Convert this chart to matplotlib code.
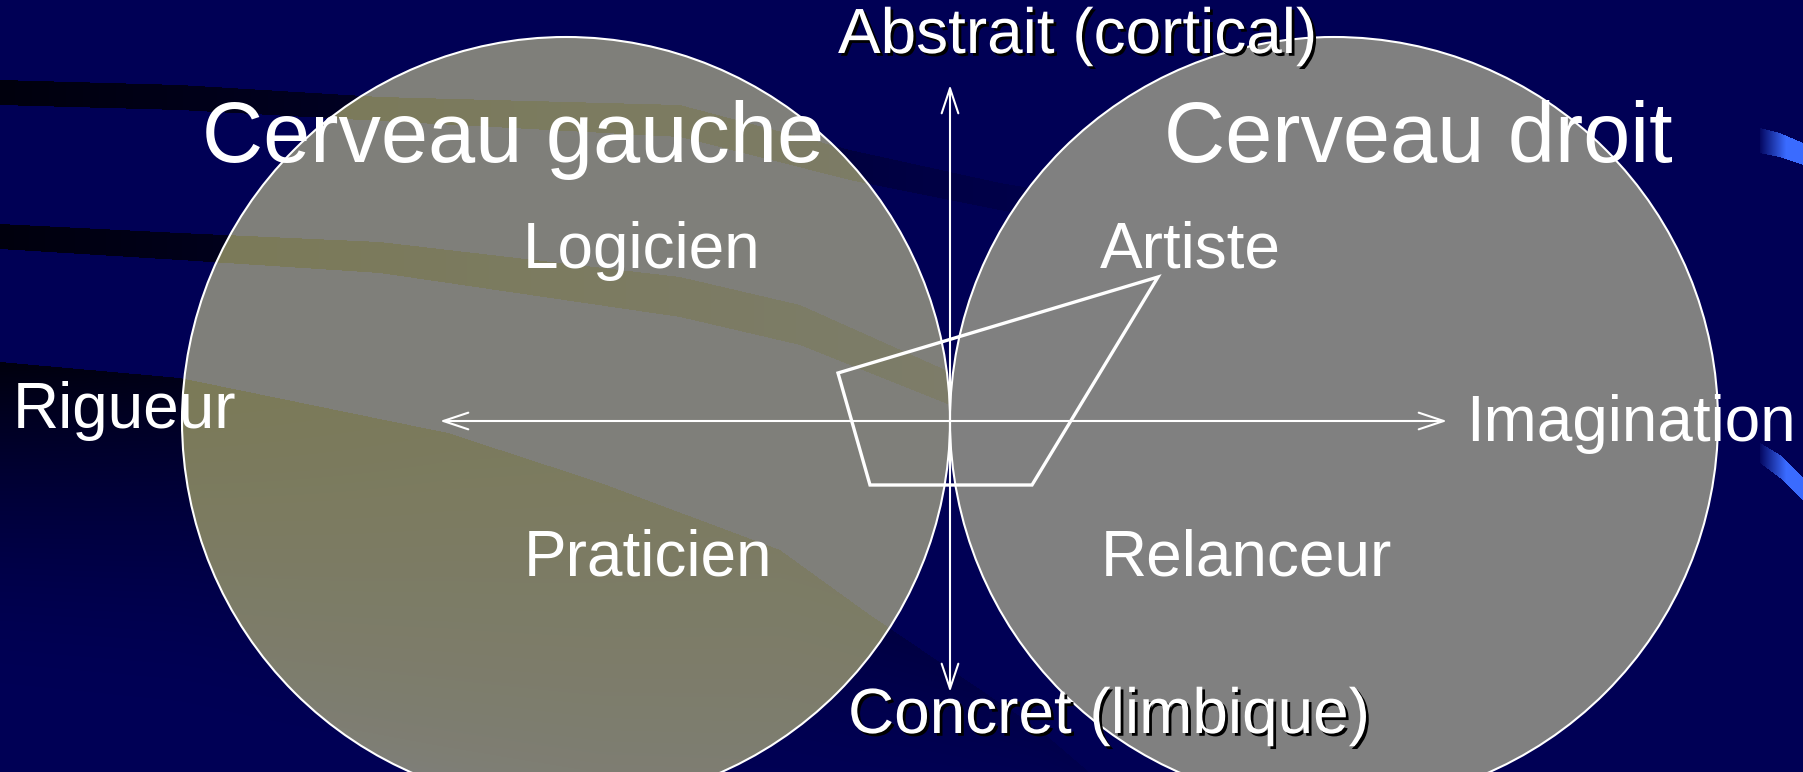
import numpy as np
import matplotlib.pyplot as plt
import matplotlib.patheffects as pe
from matplotlib.patches import Circle, Polygon
from matplotlib.path import Path

W, H = 1803, 772
BG = '#000055'
FONT = 'Liberation Sans'

# cercles (centre x, centre y, rayon) en pixels
circle_centers = [(566, 421), (1334, 421)]
circle_radius = 384

# axes : horizontal (Rigueur <-> Imagination), vertical (Concret <-> Abstrait)
h_axis = [(440, 421), (1447, 421)]
v_axis = [(950, 692), (950, 85)]

# quadrilatère du profil
profile = [(838, 373), (1158, 277), (1032, 485), (870, 485)]

# textes
titles = ['Cerveau gauche', 'Cerveau droit']
title_x = [202, 1164]
title_y = [162, 162]

labels = ['Logicien', 'Artiste', 'Praticien', 'Relanceur', 'Rigueur', 'Imagination']
label_x = [523, 1100, 524, 1101, 13, 1466]
label_y = [268, 268, 575, 575, 428, 441]

axis_labels = ['Abstrait (cortical)', 'Concret (limbique)']
axis_label_x = [838, 848]
axis_label_y = [53, 733]

# bandes décoratives du fond (x, bord haut, bord bas)
band_x = [
    [0, 180, 380, 680, 850, 1000, 1100],
    [0, 180, 380, 680, 800, 950, 1000],
    [0, 180, 448, 601, 780, 870, 1040, 1110],
]
band_top = [
    [80, 85, 97, 105, 150, 183, 200],
    [224, 233, 242, 277, 305, 372, 390],
    [362, 378, 433, 483, 550, 615, 730, 790],
]
band_bot = [
    [105, 110, 121, 137, 180, 210, 228],
    [249, 260, 273, 317, 345, 405, 420],
    [700, 720, 780, 810, 820, 830, 840, 850],
]
band_soft = [False, False, True]

# petites virgules bleues à droite
swoosh_x = [[1760, 1780, 1803], [1760, 1780, 1803]]
swoosh_top = [[128, 133, 143], [443, 455, 477]]
swoosh_bot = [[153, 157, 165], [463, 478, 500]]

fig = plt.figure(figsize=(W / 100, H / 100), dpi=100)
fig.patch.set_facecolor(BG)
ax = fig.add_axes([0, 0, 1, 1])
ax.set_facecolor(BG)

X, Y = np.meshgrid(np.arange(W) + 0.5, np.arange(H) + 0.5)
pts = np.column_stack([X.ravel(), Y.ravel()])


def band_alpha(xs, top, bot, a_left, a_right, soft, power):
    path = Path(np.column_stack([np.r_[xs, xs[::-1]], np.r_[top, bot[::-1]]]))
    inside = path.contains_points(pts).reshape(H, W)
    a = a_left + (a_right - a_left) * np.clip(X / xs[-1], 0, 1)
    if soft:
        t = np.interp(X, xs, top)
        b = np.interp(X, xs, bot)
        a = a * np.clip((b - Y) / (b - t), 0, 1) ** power
    return np.where(inside, a, 0.0)


dark = np.zeros((H, W))
olive = np.zeros((H, W))
for xs, t, b, s in zip(band_x, band_top, band_bot, band_soft):
    dark = np.maximum(dark, band_alpha(xs, t, b, 0.85, 0.08, s, 1.8))
    olive = np.maximum(olive, band_alpha(xs, t, b, 0.62, 0.25, s, 0.6))

img = np.zeros((H, W, 4))
img[..., 3] = dark
ax.imshow(img, extent=[0, W, H, 0], origin='upper', zorder=1, interpolation='bilinear')

# virgules bleues
blue = np.zeros((H, W, 4))
blue[..., :3] = np.array([0x3a, 0x6b, 0xff]) / 255
ba = np.zeros((H, W))
for xs, t, b in zip(swoosh_x, swoosh_top, swoosh_bot):
    path = Path(np.column_stack([np.r_[xs, xs[::-1]], np.r_[t, b[::-1]]]))
    inside = path.contains_points(pts).reshape(H, W)
    ba = np.maximum(ba, np.where(inside, np.clip((X - 1758) / 28, 0, 1), 0))
blue[..., 3] = ba
ax.imshow(blue, extent=[0, W, H, 0], origin='upper', zorder=1, interpolation='bilinear')

# cercles
face = ['#7f7f7a', '#808080']
circles = []
for (cx, cy), fc in zip(circle_centers, face):
    c = Circle((cx, cy), circle_radius, facecolor=fc, edgecolor='none', zorder=2)
    ax.add_patch(c)
    circles.append(c)
    ax.add_patch(Circle((cx, cy), circle_radius, facecolor='none', edgecolor='white',
                        lw=1.5, zorder=3))

# teinte olive des bandes vue à travers le cerveau gauche
oimg = np.zeros((H, W, 4))
oimg[..., :3] = np.array([120, 118, 60]) / 255
oimg[..., 3] = olive
im = ax.imshow(oimg, extent=[0, W, H, 0], origin='upper', zorder=2.5, interpolation='bilinear')
im.set_clip_path(circles[0])

# axes fléchés
arrow = dict(arrowstyle='<->,head_length=0.9,head_width=0.3', color='white', lw=1.5,
             mutation_scale=20, shrinkA=0, shrinkB=0)
ax.annotate('', xy=h_axis[0], xytext=h_axis[1], arrowprops=arrow, zorder=4)
ax.annotate('', xy=v_axis[0], xytext=v_axis[1], arrowprops=arrow, zorder=4)

ax.add_patch(Polygon(profile, closed=True, fill=False, edgecolor='white', lw=2.4,
                     joinstyle='miter', zorder=4))

for t, x, y in zip(titles, title_x, title_y):
    ax.text(x, y, t, color='white', fontsize=61, family=FONT, ha='left', va='baseline', zorder=5)

for t, x, y in zip(labels, label_x, label_y):
    ax.text(x, y, t, color='white', fontsize=46, family=FONT, ha='left', va='baseline', zorder=5)

shadow = [pe.withSimplePatchShadow(offset=(2, -2), shadow_rgbFace='black', alpha=1)]
for t, x, y in zip(axis_labels, axis_label_x, axis_label_y):
    ax.text(x, y, t, color='white', fontsize=46, family=FONT, ha='left', va='baseline',
            zorder=5, path_effects=shadow)

ax.set_xlim(0, W)
ax.set_ylim(H, 0)
ax.set_aspect('auto')
ax.axis('off')

fig.savefig('out.png', dpi=100, facecolor=BG)
